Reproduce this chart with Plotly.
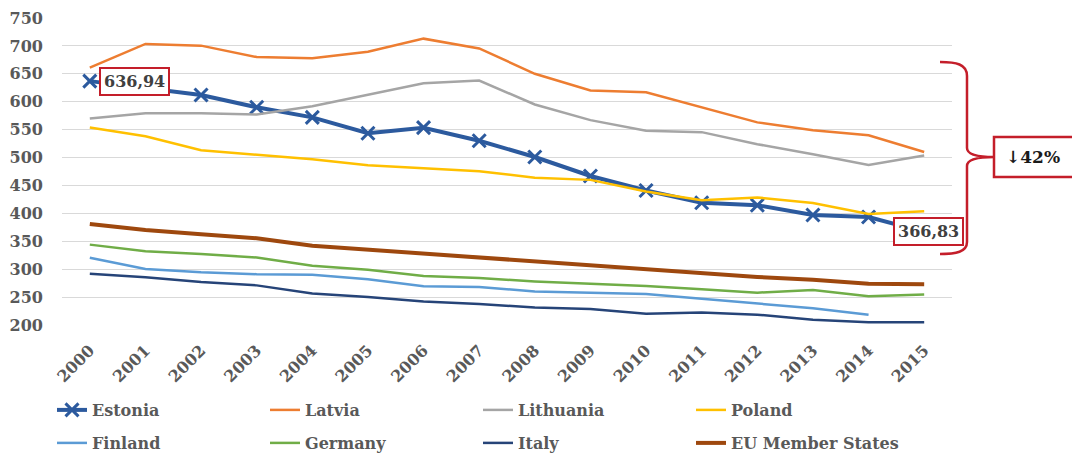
import plotly.graph_objects as go

years = [str(y) for y in range(2000, 2016)]

estonia = [636.94, 625, 612, 590, 572, 543.5, 553.5, 530, 501, 467, 441, 419, 414.5, 397, 393.5, 366.83]
latvia = [661, 703.5, 700.5, 680, 678, 689.5, 713, 695.5, 650, 620, 617, 590, 563, 549, 540, 510]
lithuania = [570, 579.5, 579.5, 577, 592, 612.5, 633, 638, 595, 567, 548, 545.5, 524, 506, 486.5, 503.5]
poland = [554, 538, 513, 505, 497, 486, 481, 475.5, 464, 460, 439, 423.5, 428.5, 418.5, 399, 404]
finland = [320.5, 300.5, 294.5, 291, 290, 282, 269.5, 268, 260, 257.5, 255.5, 247, 239, 230, 218.5, None]
germany = [344, 332, 327, 321, 306, 299, 288, 284, 278, 274.5, 270, 264, 258, 262.5, 251.5, 254.5]
italy = [292, 285.5, 277, 271, 256.5, 250, 242, 237.5, 231.5, 228.5, 220, 222.5, 218.5, 209.5, 205, 205]
eu = [381, 370, 362.5, 355.5, 342, 335, 326.5, 321, 313, 306.5, 299, 291.5, 286, 281, 274, 273]

series = [
    ("Estonia", estonia, "#2C5A9E", 4, "legend"),
    ("Latvia", latvia, "#ED7D31", 2.5, "legend"),
    ("Lithuania", lithuania, "#A5A5A5", 2.5, "legend"),
    ("Poland", poland, "#FFC000", 2.5, "legend"),
    ("Finland", finland, "#5B9BD5", 2.5, "legend2"),
    ("Germany", germany, "#70AD47", 2.5, "legend2"),
    ("Italy", italy, "#264478", 2.5, "legend2"),
    ("EU Member States", eu, "#9E480E", 4, "legend2"),
]

FONT = "DejaVu Serif"
GREY = "#595959"
RED = "#C41E2A"

fig = go.Figure()
for name, vals, color, width, leg in series:
    if name == "Estonia":
        fig.add_trace(go.Scatter(
            x=years, y=vals, name=name, mode="lines+markers", legend=leg,
            line=dict(color=color, width=width),
            marker=dict(symbol="x-thin", size=13, color=color,
                        line=dict(width=3, color=color)),
        ))
    else:
        fig.add_trace(go.Scatter(
            x=years, y=vals, name=name, mode="lines", legend=leg,
            line=dict(color=color, width=width),
        ))

# pixel -> paper helpers (plot area: x 62..952, y 18..325)
L, R, T, B = 62, 120, 18, 129
W, H = 1072, 454
PW, PH = W - L - R, H - T - B


def px(x):
    return (x - L) / PW


def py(y):
    return (H - B - y) / PH


def P(x, y):
    return f"{px(x):.5f},{py(y):.5f}"


brace = (
    f"M {P(940,62)} C {P(956,62)} {P(967,64)} {P(967,76)} "
    f"L {P(967,148)} C {P(967,154)} {P(975,157)} {P(994,157)} "
    f"C {P(975,157)} {P(967,160)} {P(967,166)} "
    f"L {P(967,242)} C {P(967,252)} {P(956,254)} {P(940,254)}"
)

fig.add_shape(type="path", xref="paper", yref="paper", path=brace,
              line=dict(color=RED, width=2.5))
fig.add_shape(type="rect", xref="paper", yref="paper",
              x0=px(994), x1=px(1090), y0=py(137), y1=py(177),
              line=dict(color=RED, width=2.5), fillcolor="white")
fig.add_annotation(xref="paper", yref="paper", x=px(1033), y=py(157),
                   xanchor="center", yanchor="middle",
                   text="<b>↓42%</b>", showarrow=False,
                   font=dict(family=FONT, size=17, color="#1a1a1a"))

fig.add_annotation(x=0, y=estonia[0], text="<b>636,94</b>", showarrow=False,
                   xanchor="left", xshift=9, bgcolor="white", bordercolor=RED,
                   borderwidth=2, borderpad=3,
                   font=dict(family=FONT, size=16, color="#404040"))
fig.add_annotation(x=len(years) - 1, y=estonia[-1], text="<b>366,83</b>", showarrow=False,
                   xanchor="center", xshift=4, bgcolor="white", bordercolor=RED,
                   borderwidth=2, borderpad=3,
                   font=dict(family=FONT, size=16, color="#404040"))

legfont = dict(family=FONT, size=16, color=GREY, weight="bold")
fig.update_layout(
    width=W, height=H,
    margin=dict(l=L, r=R, t=T, b=B, autoexpand=False),
    plot_bgcolor="white", paper_bgcolor="white",
    font=dict(family=FONT, color=GREY),
    showlegend=True,
    legend=dict(orientation="h", x=px(52), y=py(410), xanchor="left", yanchor="middle",
                entrywidth=168, entrywidthmode="pixels", font=legfont,
                bgcolor="rgba(0,0,0,0)", itemclick=False),
    legend2=dict(orientation="h", x=px(52), y=py(443), xanchor="left", yanchor="middle",
                 entrywidth=168, entrywidthmode="pixels", font=legfont,
                 bgcolor="rgba(0,0,0,0)", itemclick=False),
    xaxis=dict(type="category", range=[-0.5, len(years) - 0.5], tickangle=-45,
               showgrid=False, zeroline=False, showline=False, ticks="",
               ticklabelstandoff=12,
               tickfont=dict(family=FONT, size=16, color=GREY, weight="bold")),
    yaxis=dict(range=[200, 750], dtick=50, showgrid=True, gridcolor="#D9D9D9",
               gridwidth=1, zeroline=False, showline=False, ticks="",
               ticklabelstandoff=18,
               tickfont=dict(family=FONT, size=16, color=GREY, weight="bold")),
)

fig.write_html("out.html", config={"displayModeBar": False},
               post_script="document.body.style.margin='0';")
